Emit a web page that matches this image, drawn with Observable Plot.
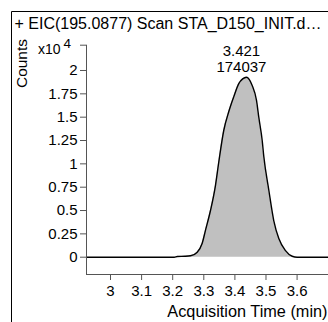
<!DOCTYPE html>
<html><head><meta charset="utf-8">
<script src="https://cdn.jsdelivr.net/npm/d3@7"></script>
<script src="https://cdn.jsdelivr.net/npm/@observablehq/plot@0.6"></script>
<style>
html,body{margin:0;padding:0;background:#fff;}
#chart{width:328px;height:322px;overflow:hidden;position:relative;}
</style></head><body><div id="chart"></div>
<script>
const titleText = "+ EIC(195.0877) Scan STA_D150_INIT.d…";
const yLabel = "Counts";
const xLabel = "Acquisition Time (min)";
const scaleNote = "x10";
const scaleExp = "4";
const times  = [2.923, 3.205, 3.215, 3.240, 3.2572, 3.2788, 3.2949, 3.3055, 3.3215, 3.3376, 3.3482, 3.3643, 3.3804, 3.3965, 3.4125, 3.425, 3.4373, 3.4556, 3.4695, 3.4768, 3.4878, 3.4929, 3.509, 3.5251, 3.5412, 3.5627, 3.5842, 3.6003, 3.701];
const counts = [0, 0, 0.008, 0.01, 0.015, 0.054, 0.15, 0.29, 0.5, 0.77, 1.02, 1.36, 1.56, 1.72, 1.86, 1.91, 1.928, 1.84, 1.68, 1.50, 1.25, 1.08, 0.72, 0.39, 0.20, 0.07, 0.01, 0, 0];
const yTicks = [0, 0.25, 0.5, 0.75, 1, 1.25, 1.5, 1.75, 2];
const xTicks = [3, 3.1, 3.2, 3.3, 3.4, 3.5, 3.6];
const peakTimes = [3.421];
const peakValues = [174037];

const data = times.map((t, i) => ({t, c: counts[i]}));
const peakY = d3.max(counts);
const peaks = peakTimes.map((t, i) => ({t, y: peakY, label: t.toFixed(3) + "\n" + peakValues[i]}));
const xDom = [2.9228, 3.701];
const yDom = [-0.1853, 2.271];
const font = "'Liberation Sans', Arial, sans-serif";
const axisColor = "#555";

const plot = Plot.plot({
  width: 328, height: 322,
  marginLeft: 86, marginRight: 0, marginTop: 44.7, marginBottom: 48,
  style: {fontFamily: font, fontSize: "15px", background: "#fff", color: "#000", overflow: "visible"},
  x: {domain: xDom},
  y: {domain: yDom},
  marks: [
    Plot.areaY(data, {x: "t", y: "c", fill: "#c0c0c0", curve: "monotone-x"}),
    Plot.lineY(data, {x: "t", y: "c", stroke: "#000", strokeWidth: 1.4, curve: "monotone-x"}),
    Plot.ruleX([xDom[0]], {stroke: axisColor}),
    Plot.ruleY([yDom[0]], {stroke: axisColor}),
    Plot.axisY({ticks: yTicks, tickSize: 6, tickPadding: 3, tickFormat: d => String(d), label: null, stroke: axisColor, fill: "#000", fontSize: 15}),
    Plot.axisY({ticks: [yDom[1]], tickSize: 6, tickFormat: () => "", label: null, stroke: axisColor}),
    Plot.axisX({ticks: xTicks, tickSize: 6, tickPadding: 4.5, tickFormat: d => String(d), label: null, stroke: axisColor, fill: "#000", fontSize: 15}),
    Plot.text(peaks, {x: "t", y: "y", text: "label", textAnchor: "middle", lineAnchor: "bottom", lineHeight: 1.05, dy: -5, fontSize: 15, fill: "#000"}),
    Plot.text([titleText], {frameAnchor: "top-left", dx: 14 - 86, dy: 28 - 44.7, textAnchor: "start", lineAnchor: "bottom", fontSize: 16, fill: "#000"}),
    Plot.text([yLabel], {frameAnchor: "top-left", dx: 22 - 86, dy: 63 - 44.7, rotate: -90, textAnchor: "middle", lineAnchor: "middle", fontSize: 15.5, fill: "#000"}),
    Plot.text([scaleNote], {frameAnchor: "top-left", dx: 60 - 86, dy: 53 - 44.7, textAnchor: "end", lineAnchor: "bottom", fontSize: 14, fill: "#000"}),
    Plot.text([scaleExp], {frameAnchor: "top-left", dx: 63 - 86, dy: 47 - 44.7, textAnchor: "start", lineAnchor: "bottom", fontSize: 13.5, fill: "#000"}),
    Plot.text([xLabel], {frameAnchor: "bottom-right", dx: -1, dy: 316 - 274, textAnchor: "end", lineAnchor: "bottom", fontSize: 16.3, fill: "#000"})
  ]
});

const svg = d3.select(plot);
svg.append("line").attr("x1", 11.5).attr("y1", 11.5).attr("x2", 328).attr("y2", 11.5).attr("stroke", "#000").attr("stroke-width", 1);
svg.append("line").attr("x1", 11.5).attr("y1", 11.5).attr("x2", 11.5).attr("y2", 322).attr("stroke", "#000").attr("stroke-width", 1);
document.getElementById("chart").appendChild(plot);
</script>
</body></html>
